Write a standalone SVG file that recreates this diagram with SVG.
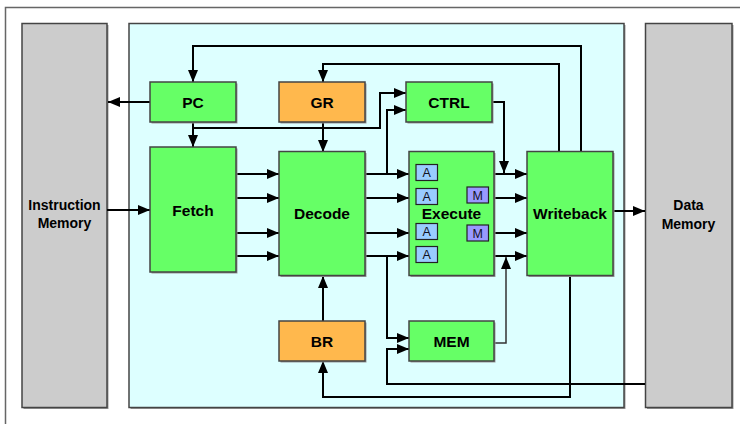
<svg xmlns="http://www.w3.org/2000/svg" width="740" height="424" viewBox="0 0 740 424">
<defs>
<marker id="ah" markerUnits="userSpaceOnUse" markerWidth="12" markerHeight="10" refX="12" refY="5" orient="auto">
<path d="M0,0 L12,5 L0,10 Z" fill="#000"/>
</marker>
<style>
.box{stroke:#444;stroke-width:1.5}
.sh{fill:#999}
.g{fill:#66FF66}
.o{fill:#FFB84D}
.gray{fill:#CCCCCC}
.t{font-family:"Liberation Sans",Arial,sans-serif;font-weight:bold;font-size:15.5px;fill:#000;text-anchor:middle}
.ts{font-family:"Liberation Sans",Arial,sans-serif;font-weight:bold;font-size:14px;fill:#000;text-anchor:middle}
.unit{stroke:#222;stroke-width:1.2}
.a{fill:#99CCFF}
.m{fill:#9999FF}
.tu{font-family:"Liberation Sans",Arial,sans-serif;font-size:12.5px;fill:#112;text-anchor:middle}
.c{fill:none;stroke:#000;stroke-width:2}
.ca{fill:none;stroke:#000;stroke-width:2;marker-end:url(#ah)}
</style>
</defs>
<rect x="0" y="0" width="740" height="424" fill="#fff"/>
<rect x="5.5" y="7.5" width="800" height="500" fill="none" stroke="#666" stroke-width="1.5"/>

<g id="instruction-memory">
<rect class="sh" x="23.5" y="25" width="85" height="384"/>
<rect class="box gray" x="22" y="23.5" width="85" height="384"/>
<text class="ts" x="64.5" y="210">Instruction</text>
<text class="ts" x="64.5" y="228">Memory</text>
</g>
<g id="processor">
<rect class="sh" x="130.5" y="25" width="495" height="384"/>
<rect class="box" fill="#DDFFFF" x="129" y="23.5" width="495" height="384"/>
</g>
<g id="data-memory">
<rect class="sh" x="647" y="25" width="86.5" height="384"/>
<rect class="box gray" x="645.5" y="23.5" width="86.5" height="384"/>
<text class="ts" x="688.5" y="210">Data</text>
<text class="ts" x="688.5" y="229">Memory</text>
</g>

<g id="connectors">
<line class="ca" x1="107" y1="210" x2="150" y2="210"/>
<line class="ca" x1="150" y1="102" x2="108" y2="102"/>
<line class="ca" x1="193" y1="122" x2="193" y2="147"/>
<polyline class="ca" points="193,128 380,128 380,93 406,93"/>
<polyline class="ca" points="581,152 581,46 193,46 193,82"/>
<polyline class="ca" points="559,152 559,64 323,64 323,82"/>
<line class="ca" x1="323" y1="122" x2="323" y2="152"/>
<line class="ca" x1="236" y1="174" x2="279" y2="174"/>
<line class="ca" x1="236" y1="198" x2="279" y2="198"/>
<line class="ca" x1="236" y1="233" x2="279" y2="233"/>
<line class="ca" x1="236" y1="256" x2="279" y2="256"/>
<line class="ca" x1="365" y1="174" x2="409" y2="174"/>
<line class="ca" x1="365" y1="198" x2="409" y2="198"/>
<line class="ca" x1="365" y1="233" x2="409" y2="233"/>
<line class="ca" x1="365" y1="256" x2="409" y2="256"/>
<polyline class="ca" points="387,174 387,110 406,110"/>
<line class="ca" x1="494" y1="174" x2="527" y2="174"/>
<line class="ca" x1="494" y1="198" x2="527" y2="198"/>
<line class="ca" x1="494" y1="233" x2="527" y2="233"/>
<line class="ca" x1="494" y1="256" x2="527" y2="256"/>
<polyline class="ca" points="492,102 504,102 504,173"/>
<polyline class="ca" points="494,343 506,343 506,257" style="stroke:#333;stroke-width:1.5"/>
<polyline class="ca" points="387,256 387,338 409,338"/>
<polyline class="ca" points="645,384 387,384 387,349 409,349"/>
<polyline class="ca" points="570,276 570,397 323,397 323,361"/>
<line class="ca" x1="323" y1="321" x2="323" y2="276"/>
<line class="ca" x1="613" y1="211" x2="645" y2="211"/>
</g>

<g id="pc">
<rect class="sh" x="151.5" y="83.5" width="86" height="40"/>
<rect class="box g" x="150" y="82" width="86" height="40"/>
<text class="t" x="193" y="107.5">PC</text>
</g>
<g id="gr">
<rect class="sh" x="280.5" y="83.5" width="86" height="40"/>
<rect class="box o" x="279" y="82" width="86" height="40"/>
<text class="t" x="322" y="107.5">GR</text>
</g>
<g id="ctrl">
<rect class="sh" x="407.5" y="83.5" width="86" height="40"/>
<rect class="box g" x="406" y="82" width="86" height="40"/>
<text class="t" x="449" y="107.5">CTRL</text>
</g>
<g id="fetch">
<rect class="sh" x="151.5" y="148.5" width="86" height="125"/>
<rect class="box g" x="150" y="147" width="86" height="125"/>
<text class="t" x="193" y="215.5">Fetch</text>
</g>
<g id="decode">
<rect class="sh" x="280.5" y="153" width="86" height="124"/>
<rect class="box g" x="279" y="151.5" width="86" height="124"/>
<text class="t" x="322" y="219">Decode</text>
</g>
<g id="execute">
<rect class="sh" x="410.5" y="153" width="85" height="124"/>
<rect class="box g" x="409" y="151.5" width="85" height="124"/>
<text class="t" x="451.5" y="219">Execute</text>
<rect class="unit a" x="416" y="164.5" width="21.5" height="16"/>
<text class="tu" x="426.7" y="177">A</text>
<rect class="unit a" x="416" y="188.5" width="21.5" height="16"/>
<text class="tu" x="426.7" y="201">A</text>
<rect class="unit a" x="416" y="223.5" width="21.5" height="16"/>
<text class="tu" x="426.7" y="236">A</text>
<rect class="unit a" x="416" y="246.5" width="21.5" height="16"/>
<text class="tu" x="426.7" y="259">A</text>
<rect class="unit m" x="467" y="187" width="21.5" height="16"/>
<text class="tu" x="477.7" y="199.5">M</text>
<rect class="unit m" x="467" y="225" width="21.5" height="16"/>
<text class="tu" x="477.7" y="237.5">M</text>
</g>
<g id="writeback">
<rect class="sh" x="528.5" y="153" width="86" height="124"/>
<rect class="box g" x="527" y="151.5" width="86" height="124"/>
<text class="t" x="570" y="219">Writeback</text>
</g>
<g id="br">
<rect class="sh" x="280.5" y="322.5" width="86" height="40"/>
<rect class="box o" x="279" y="321" width="86" height="40"/>
<text class="t" x="322" y="346.5">BR</text>
</g>
<g id="mem">
<rect class="sh" x="410.5" y="322.5" width="85" height="40"/>
<rect class="box g" x="409" y="321" width="85" height="40"/>
<text class="t" x="451.5" y="346.5">MEM</text>
</g>
</svg>
